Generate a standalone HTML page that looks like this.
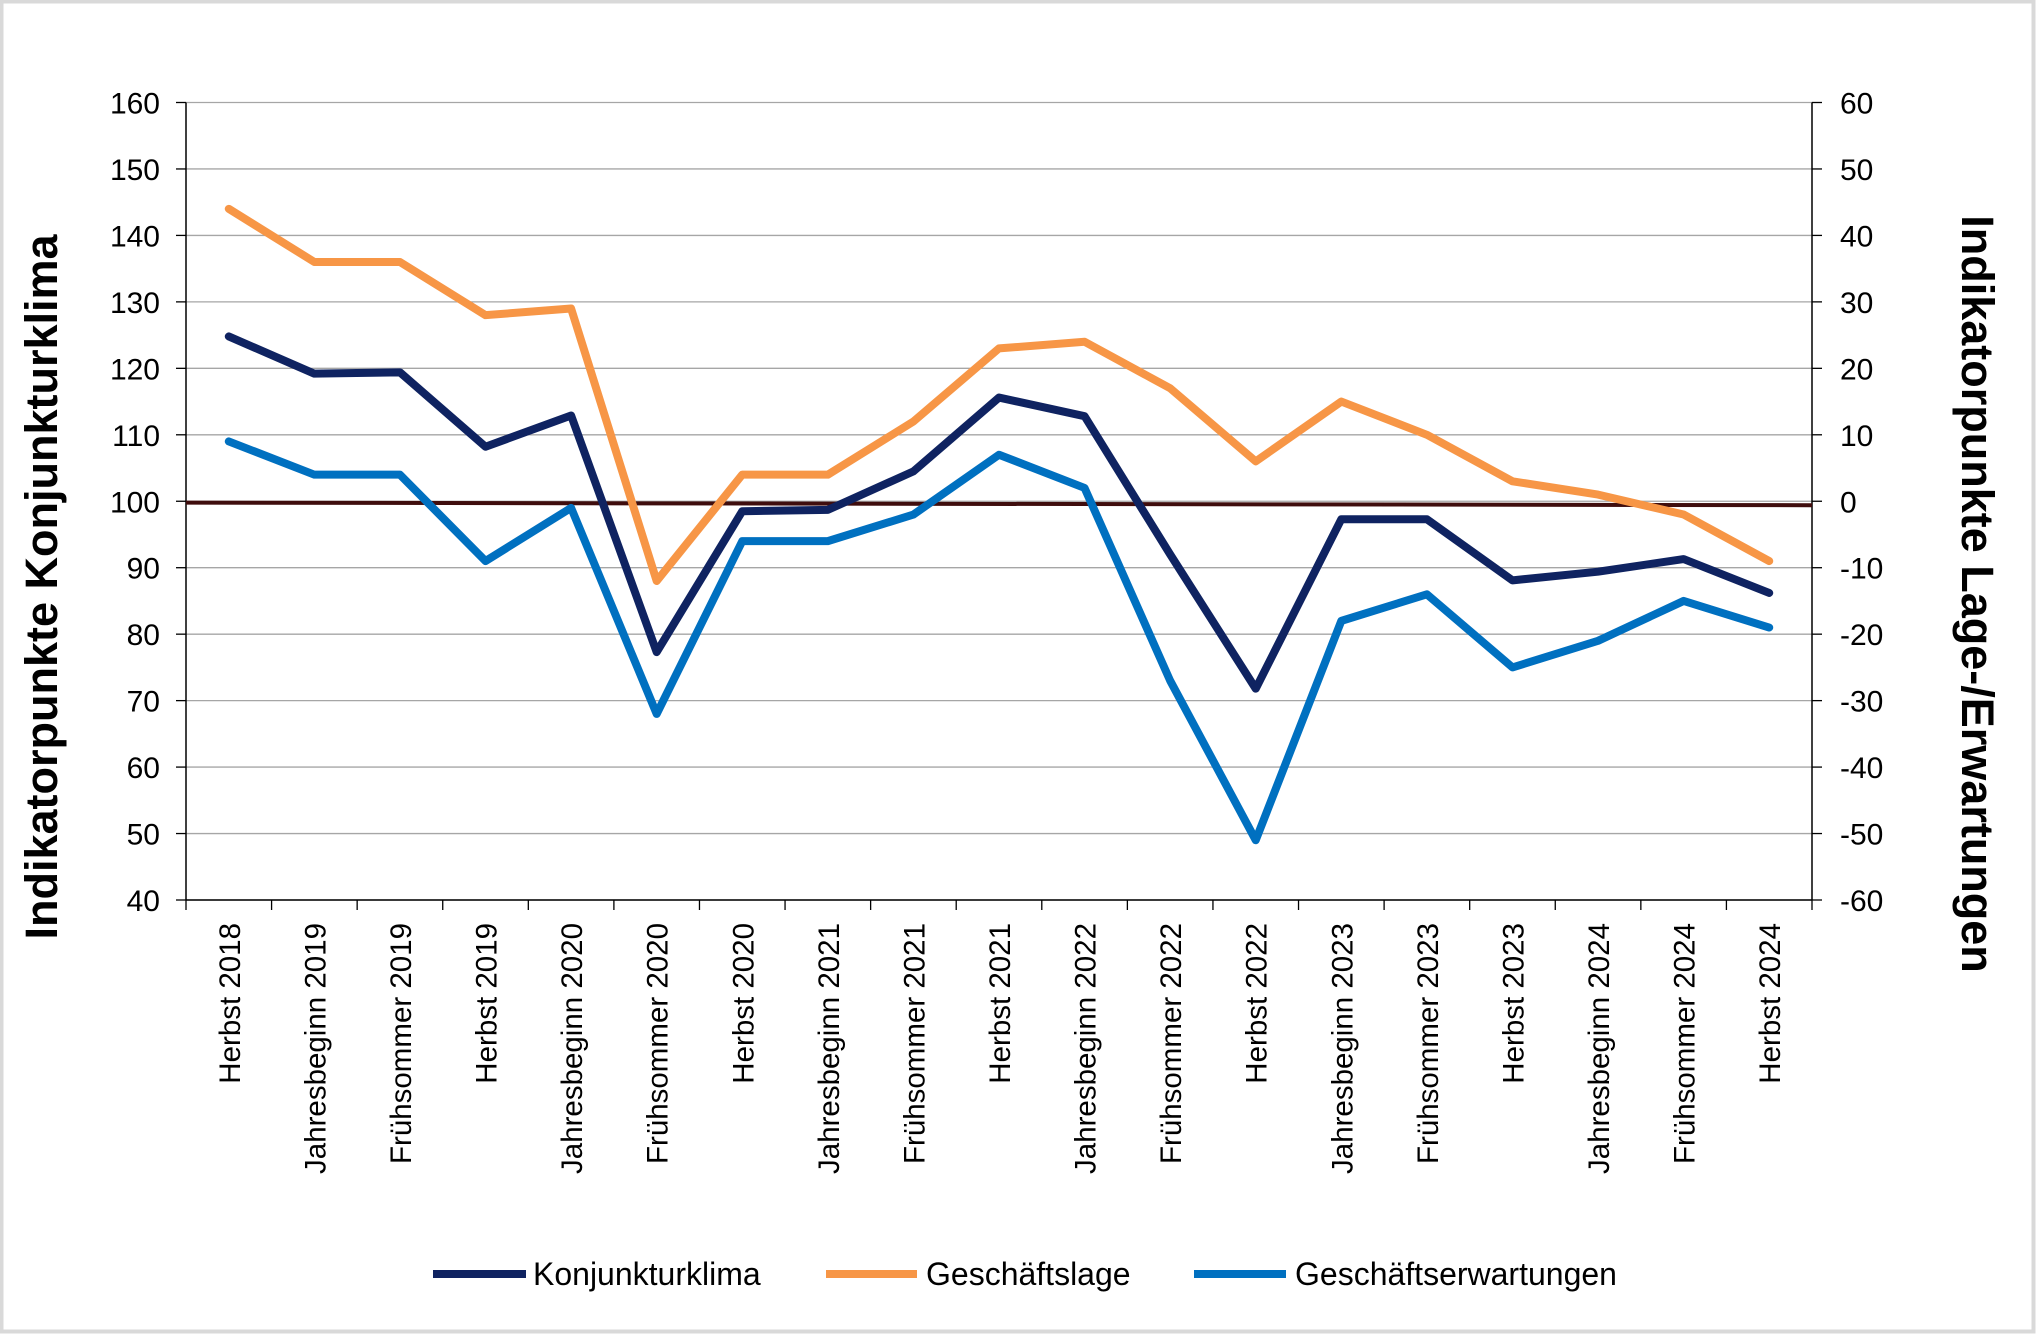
<!DOCTYPE html>
<html><head><meta charset="utf-8"><style>
html,body{margin:0;padding:0;background:#fff}
svg{display:block;font-family:"Liberation Sans",sans-serif}
</style></head><body>
<svg id="chart" width="2037" height="1335" viewBox="0 0 2037 1335">
<rect x="1.5" y="1.5" width="2032" height="1330" fill="#fff" stroke="#d9d9d9" stroke-width="4"/>
<g id="grid"></g>
<g id="axes"></g>
<g id="series"></g>
<text transform="translate(57,587) rotate(-90)" text-anchor="middle" font-size="45" font-weight="bold">Indikatorpunkte Konjunkturklima</text>
<text transform="translate(1962,594) rotate(90)" text-anchor="middle" font-size="45" font-weight="bold">Indikatorpunkte Lage-/Erwartungen</text>
<g>
<g><line x1="433" y1="1274" x2="526" y2="1274" stroke="#0f2361" stroke-width="8"/><text x="533" y="1285" font-size="32">Konjunkturklima</text></g>
<g><line x1="826" y1="1274" x2="917" y2="1274" stroke="#f79646" stroke-width="8"/><text x="926" y="1285" font-size="32">Geschäftslage</text></g>
<g><line x1="1194" y1="1274" x2="1286" y2="1274" stroke="#0070c0" stroke-width="8"/><text x="1295" y="1285" font-size="32">Geschäftserwartungen</text></g>
</g>
</svg>
<script>
const categories=["Herbst 2018","Jahresbeginn 2019","Frühsommer 2019","Herbst 2019","Jahresbeginn 2020","Frühsommer 2020","Herbst 2020","Jahresbeginn 2021","Frühsommer 2021","Herbst 2021","Jahresbeginn 2022","Frühsommer 2022","Herbst 2022","Jahresbeginn 2023","Frühsommer 2023","Herbst 2023","Jahresbeginn 2024","Frühsommer 2024","Herbst 2024"];
const konjunkturklima=[124.8,119.2,119.4,108.2,112.9,77.3,98.5,98.7,104.5,115.6,112.8,92,71.8,97.3,97.3,88.1,89.4,91.3,86.2];
const geschaeftslage=[44,36,36,28,29,-12,4,4,12,23,24,17,6,15,10,3,1,-2,-9];
const geschaeftserwartungen=[9,4,4,-9,-1,-32,-6,-6,-2,7,2,-27,-51,-18,-14,-25,-21,-15,-19];
const leftTicks=[40,50,60,70,80,90,100,110,120,130,140,150,160];
const rightTicks=[-60,-50,-40,-30,-20,-10,0,10,20,30,40,50,60];
const refLine=[99.8,99.4];

const NS="http://www.w3.org/2000/svg";
const L=186,R=1812,T=102.5,B=900;
const bw=(R-L)/categories.length;
const xc=i=>L+bw*(i+0.5);
const yL=v=>B-(v-40)/120*(B-T);
const yR=v=>B-(v+60)/120*(B-T);
function mk(tag,attrs,parent){const e=document.createElementNS(NS,tag);for(const k in attrs)e.setAttribute(k,attrs[k]);parent.appendChild(e);return e;}
const grid=document.getElementById('grid'),axes=document.getElementById('axes'),ser=document.getElementById('series');
leftTicks.forEach((t,i)=>{
 const y=yL(t);
 const g=mk('line',{x1:L,x2:R,y1:y,y2:y,stroke:'#a6a6a6','stroke-width':1.3},grid);
 
 
 mk('line',{x1:L-10,x2:L,y1:y,y2:y,stroke:'#000','stroke-width':1.3},axes);
 const tx=mk('text',{x:L-26,y:y+11,'text-anchor':'end','font-size':30},axes);
 tx.textContent=t;
 
 
});
rightTicks.forEach(t=>{
 const y=yR(t);
 mk('line',{x1:R,x2:R+10,y1:y,y2:y,stroke:'#000','stroke-width':1.3},axes);
 const tx=mk('text',{x:R+28,y:y+11,'text-anchor':'start','font-size':30},axes);
 tx.textContent=t;
 
 
});
mk('line',{x1:L,x2:L,y1:T,y2:B,stroke:'#000','stroke-width':1.5},axes);
mk('line',{x1:R,x2:R,y1:T,y2:B,stroke:'#000','stroke-width':1.5},axes);
mk('line',{x1:L,x2:R,y1:B,y2:B,stroke:'#000','stroke-width':1.5},axes);
for(let i=0;i<=categories.length;i++){const x=L+bw*i;mk('line',{x1:x,x2:x,y1:B,y2:B+10,stroke:'#000','stroke-width':1.3},axes);}
categories.forEach((c,i)=>{
 const x=xc(i)+11;
 const tx=mk('text',{transform:`translate(${x},${B+23}) rotate(-90)`,'text-anchor':'end','font-size':29.5},axes);
 tx.textContent=c;
 
 
});
const rl=mk('line',{x1:L,x2:R,y1:yL(refLine[0]),y2:yL(refLine[1]),stroke:'#3f0d0d','stroke-width':4},ser);


function drawLine(vals,yf,color,name){
 const p=mk('polyline',{points:vals.map((v,i)=>xc(i)+','+yf(v)).join(' '),fill:'none',stroke:color,'stroke-width':8,'stroke-linejoin':'round','stroke-linecap':'round'},ser);
 
 
}
drawLine(geschaeftslage,yR,'#f79646','line-geschaeftslage');
drawLine(geschaeftserwartungen,yR,'#0070c0','line-geschaeftserwartungen');
drawLine(konjunkturklima,yL,'#0f2361','line-konjunkturklima');
</script>
</body></html>
